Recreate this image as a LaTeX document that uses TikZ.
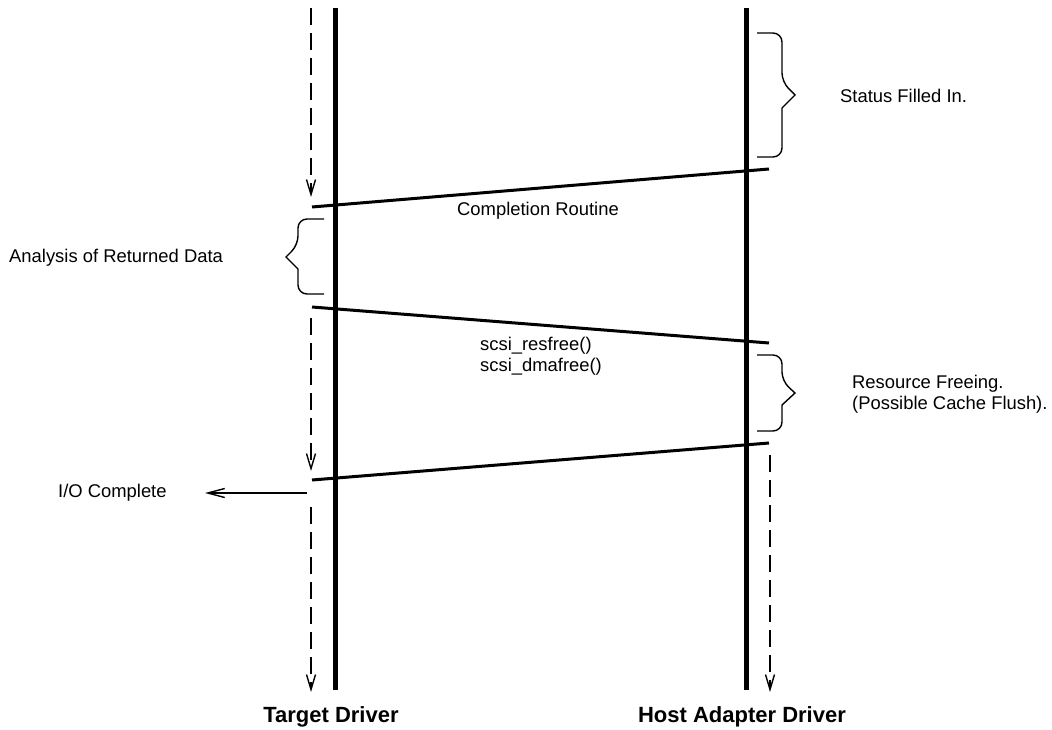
\documentclass[tikz,border=0pt]{standalone}
\usepackage{fontspec}
\setmainfont{Liberation Sans}
\usetikzlibrary{arrows.meta}
\begin{document}
\begin{tikzpicture}[x=1pt,y=-1pt,
  lifeline/.style={line width=5pt},
  msg/.style={line width=3pt},
  flow/.style={line width=1.4pt,dash pattern=on 17pt off 8pt,-{Straight Barb[length=15pt,width=9pt,line width=1.4pt]}},
  brace/.style={line width=1.4pt,rounded corners=9pt},
  lbl/.style={inner sep=0pt,anchor=west,font=\fontsize{18.4}{21.5}\selectfont,align=left},
  title/.style={inner sep=0pt,font=\fontsize{22}{26}\selectfont\bfseries}]
\useasboundingbox (0,0) rectangle (1052,730);
% lifelines
\coordinate (tdTop) at (335,8);
\coordinate (tdBot) at (335,690);
\coordinate (haTop) at (746,8);
\coordinate (haBot) at (746,690);
\draw[lifeline] (tdTop) -- (tdBot);
\draw[lifeline] (haTop) -- (haBot);
% flow arrows
\coordinate (f1a) at (311,8);   \coordinate (f1b) at (311,197);
\coordinate (f2a) at (311,318); \coordinate (f2b) at (311,471);
\coordinate (f3a) at (311,507); \coordinate (f3b) at (311,692);
\coordinate (f4a) at (770,455); \coordinate (f4b) at (770,692);
\draw[flow] (f1a) -- (f1b);
\draw[flow] (f2a) -- (f2b);
\draw[flow] (f3a) -- (f3b);
\draw[flow] (f4a) -- (f4b);
% messages
\coordinate (m1a) at (769,169); \coordinate (m1b) at (312,207);
\coordinate (m2a) at (312,307); \coordinate (m2b) at (769,343);
\coordinate (m3a) at (769,443); \coordinate (m3b) at (312,480);
\draw[msg] (m1a) -- (m1b);
\draw[msg] (m2a) -- (m2b);
\draw[msg] (m3a) -- (m3b);
% I/O complete arrow
\node[lbl] (io) at (58,493) {I/O Complete};
\coordinate (ioStart) at (307,493);
\draw[line width=1.4pt,-{Straight Barb[length=17pt,width=9pt,line width=1.4pt]}] (ioStart) -- (io.east -| 205,0);
% braces
\draw[brace] (757,33) -- (782,33) -- (782,82) [sharp corners] -- (795,95) -- (782,108) [rounded corners=9pt] -- (782,157) -- (757,157);
\draw[brace] (324,219) -- (298,219) -- (298,245) [sharp corners] -- (286,257) -- (298,269) [rounded corners=9pt] -- (298,294) -- (324,294);
\draw[brace] (757,355) -- (782,355) -- (782,381) [sharp corners] -- (795,393) -- (782,405) [rounded corners=9pt] -- (782,431) -- (757,431);
% labels
\node[lbl] (status) at (840,96) {Status Filled In.};
\node[lbl] (compl) at (457,211) {Completion Routine};
\node[lbl] (anal) at (9,258) {Analysis of Returned Data};
\node[lbl] (scsi) at (480,356) {scsi\_resfree()\\scsi\_dmafree()};
\node[lbl] (res) at (852,394) {Resource Freeing.\\(Possible Cache Flush).};
\node[title] (td) at (331,717) {Target Driver};
\node[title] (ha) at (742,717) {Host Adapter Driver};
\end{tikzpicture}
\end{document}
